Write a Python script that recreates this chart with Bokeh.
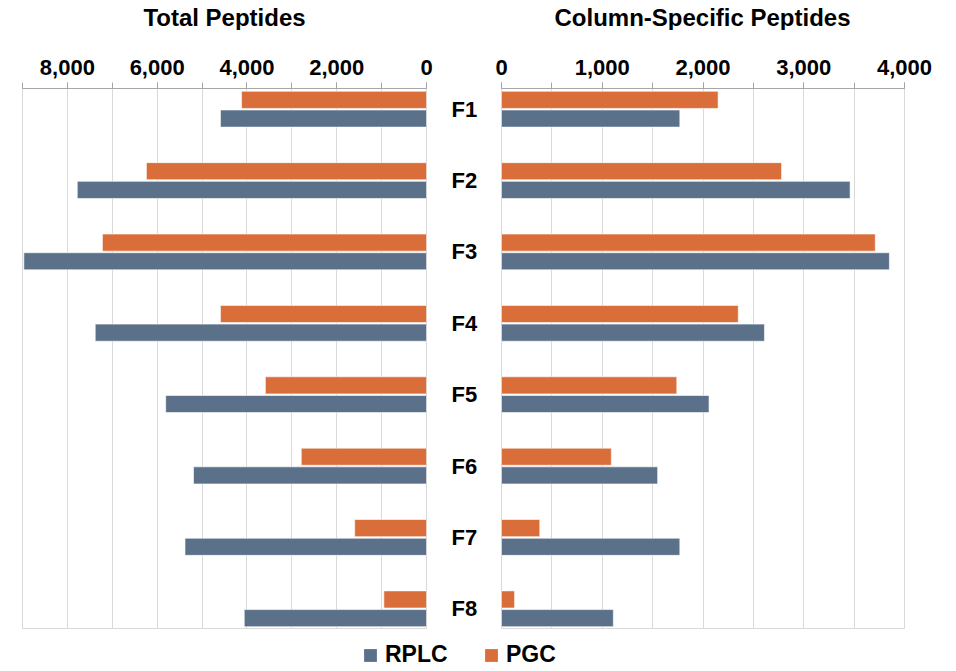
from bokeh.plotting import figure
from bokeh.layouts import row, column
from bokeh.models import (Range1d, FactorRange, SingleIntervalTicker, NumeralTickFormatter,
                          Legend, LegendItem, ColumnDataSource, Label)
from bokeh.transform import dodge
from bokeh.embed import file_html
from bokeh.resources import INLINE

fractions = ["F1", "F2", "F3", "F4", "F5", "F6", "F7", "F8"]
total_rplc = [4590, 7780, 8970, 7380, 5810, 5190, 5380, 4060]
total_pgc = [4120, 6240, 7220, 4590, 3590, 2790, 1600, 950]
specific_rplc = [1770, 3460, 3850, 2610, 2060, 1550, 1770, 1110]
specific_pgc = [2150, 2780, 3710, 2350, 1740, 1090, 380, 130]
titles = ["Total Peptides", "Column-Specific Peptides"]

BLUE = "#5B7089"
ORANGE = "#D96E3A"
GRID = "#D9D9D9"
AXIS = "#A6A6A6"
FONT = "Liberation Sans"

src = ColumnDataSource(dict(frac=fractions, total_rplc=total_rplc, total_pgc=total_pgc,
                            specific_rplc=specific_rplc, specific_pgc=specific_pgc))

def make_range():
    return FactorRange(factors=fractions[::-1], range_padding=-0.21,
                       range_padding_units="absolute")

def style(p, interval):
    ax = p.xaxis[0]
    ax.ticker = SingleIntervalTicker(interval=interval, num_minor_ticks=2)
    ax.formatter = NumeralTickFormatter(format="0,0")
    ax.major_label_text_font = FONT
    ax.major_label_text_font_size = "22px"
    ax.major_label_text_font_style = "bold"
    ax.major_label_text_color = "#000000"
    ax.axis_line_color = AXIS
    ax.major_tick_line_color = AXIS
    ax.minor_tick_line_color = AXIS
    ax.major_tick_out = 6
    ax.major_tick_in = 0
    ax.minor_tick_out = 6
    ax.minor_tick_in = 0
    ax.major_label_standoff = 8
    p.xgrid.grid_line_color = GRID
    p.xgrid.minor_grid_line_color = GRID
    p.ygrid.grid_line_color = None
    p.outline_line_color = GRID
    p.background_fill_color = "white"
    p.border_fill_color = "white"

def strip(height):
    s = figure(width=954, height=height, x_range=Range1d(0, 1), y_range=Range1d(0, 1),
               x_axis_location=None, y_axis_location=None, toolbar_location=None,
               output_backend="svg", min_border=0)
    s.outline_line_color = None
    s.xgrid.grid_line_color = None
    s.ygrid.grid_line_color = None
    return s

bar_kw = dict(height=0.24, source=src, line_color="white", line_alpha=0.6)

# Title strip
top = strip(30)
for t, cx in zip(titles, (224, 702)):
    top.add_layout(Label(x=cx, y=13, x_units="screen", y_units="screen", text=t,
                         text_align="center", text_baseline="middle", text_font=FONT,
                         text_font_size="24px", text_font_style="bold", text_color="#000000"))

# Left panel: total peptides (reversed axis)
left = figure(frame_width=404, frame_height=541, x_range=Range1d(9000, 0), y_range=make_range(),
              x_axis_location="above", y_axis_location="right", toolbar_location=None,
              output_backend="svg", min_border_left=22, min_border_right=54,
              min_border_top=58, min_border_bottom=0)
left.hbar(y=dodge("frac", 0.131, range=left.y_range), left=0, right="total_pgc",
          fill_color=ORANGE, **bar_kw)
left.hbar(y=dodge("frac", -0.131, range=left.y_range), left=0, right="total_rplc",
          fill_color=BLUE, **bar_kw)
style(left, 2000)
ya = left.yaxis[0]
ya.axis_line_color = None
ya.major_tick_line_color = None
ya.minor_tick_line_color = None
ya.major_tick_out = 0
ya.major_tick_in = 0
ya.major_label_standoff = 25
ya.major_label_text_font = FONT
ya.major_label_text_font_size = "22px"
ya.major_label_text_font_style = "bold"
ya.major_label_text_color = "#000000"

# Right panel: column-specific peptides
right = figure(frame_width=403, frame_height=541, x_range=Range1d(0, 4000), y_range=make_range(),
               x_axis_location="above", y_axis_location=None, toolbar_location=None,
               output_backend="svg", min_border_left=21, min_border_right=50,
               min_border_top=58, min_border_bottom=0)
right.hbar(y=dodge("frac", 0.131, range=right.y_range), left=0, right="specific_pgc",
           fill_color=ORANGE, **bar_kw)
right.hbar(y=dodge("frac", -0.131, range=right.y_range), left=0, right="specific_rplc",
           fill_color=BLUE, **bar_kw)
style(right, 1000)

# Legend strip below both panels (bars fall outside its view; only legend glyphs show)
leg = figure(width=954, height=40, x_range=Range1d(-2, -1), y_range=FactorRange(factors=fractions),
             x_axis_location=None, y_axis_location=None, toolbar_location=None,
             output_backend="svg", min_border=0)
leg.outline_line_color = None
leg.xgrid.grid_line_color = None
leg.ygrid.grid_line_color = None
g_rplc = leg.hbar(y="frac", left=0, right="total_rplc", height=0.5, source=src,
                  fill_color=BLUE, line_color=None)
g_pgc = leg.hbar(y="frac", left=0, right="total_pgc", height=0.5, source=src,
                 fill_color=ORANGE, line_color=None)
leg_kw = dict(orientation="horizontal", padding=0, margin=0, border_line_color=None,
              background_fill_alpha=0, glyph_width=16, glyph_height=16, label_standoff=7,
              label_text_font=FONT, label_text_font_size="23px", label_text_font_style="bold",
              label_text_color="#000000", label_height=16)
leg.add_layout(Legend(items=[LegendItem(label="RPLC", renderers=[g_rplc])],
                      location=(362, 1), **leg_kw), "center")
leg.add_layout(Legend(items=[LegendItem(label="PGC", renderers=[g_pgc])],
                      location=(483, 1), **leg_kw), "center")

layout = column(top, row(left, right), leg)
open("out.html", "w").write(file_html(layout, INLINE))
